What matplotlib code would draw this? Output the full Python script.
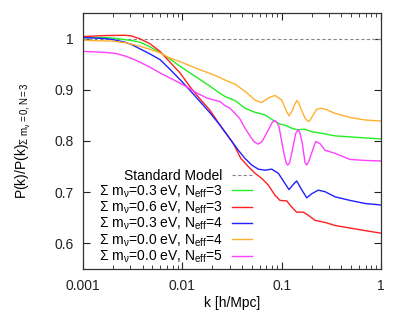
import matplotlib
matplotlib.use("Agg")
import matplotlib.pyplot as plt
from matplotlib.ticker import LogLocator, NullFormatter, FixedLocator, FixedFormatter

plt.rcParams['font.family'] = ['Liberation Sans', 'DejaVu Sans']
plt.rcParams['mathtext.fontset'] = 'custom'
plt.rcParams['mathtext.rm'] = 'Liberation Sans'
plt.rcParams['mathtext.it'] = 'Liberation Sans'
plt.rcParams['mathtext.sf'] = 'Liberation Sans'

# ---- data ----
k_std = [0.001, 1.0]
v_std = [1.0, 1.0]

k_green = [0.001, 0.00132, 0.001666, 0.002005, 0.002648, 0.003113, 0.003748, 0.004726, 0.005959,
           0.007513, 0.009474, 0.01194, 0.01506, 0.019, 0.02394, 0.02689,
           0.0339, 0.04274, 0.048, 0.05391, 0.06797, 0.0857, 0.0962, 0.108, 0.1262, 0.1417,
           0.1718, 0.2007, 0.253, 0.3443, 0.4875, 1.0]
v_green = [1.002, 1.002, 1.002, 1.001, 0.998, 0.996, 0.993, 0.984, 0.973,
           0.960, 0.946, 0.933, 0.920, 0.907, 0.893, 0.887,
           0.879, 0.864, 0.860, 0.856, 0.851, 0.838, 0.833, 0.831, 0.825, 0.822,
           0.823, 0.818, 0.815, 0.810, 0.808, 0.804]

k_red = [0.001, 0.00132, 0.001666, 0.002648, 0.003113, 0.003748, 0.004726, 0.005959, 0.007513,
         0.009474, 0.01194, 0.01506, 0.019, 0.02394, 0.0326, 0.0388, 0.04614, 0.05391, 0.06295,
         0.07336, 0.0857, 0.09623, 0.1124, 0.1262, 0.1417, 0.1652, 0.1854, 0.2166, 0.2731,
         0.3443, 0.4875, 0.69, 1.0]
v_red = [1.004, 1.005, 1.006, 1.0065, 1.005, 0.9994, 0.990, 0.975, 0.954,
         0.933, 0.906, 0.882, 0.860, 0.831, 0.795, 0.766, 0.750, 0.737, 0.727,
         0.714, 0.694, 0.684, 0.683, 0.671, 0.661, 0.661, 0.655, 0.645, 0.641,
         0.635, 0.630, 0.625, 0.620]

k_blue = [0.001, 0.00132, 0.001666, 0.002005, 0.002648, 0.003113, 0.003748, 0.004726, 0.005959,
          0.007513, 0.009474, 0.01194, 0.01506, 0.019, 0.02394, 0.0366,
          0.04274, 0.04993, 0.0582, 0.06797, 0.07936, 0.09252, 0.108, 0.1186, 0.1292, 0.1417,
          0.1566, 0.1787, 0.2007, 0.2338, 0.2731, 0.3443, 0.4875, 0.69, 1.0]
v_blue = [1.002, 1.001, 1.000, 0.998, 0.993, 0.988, 0.980, 0.970, 0.959,
          0.940, 0.920, 0.899, 0.877, 0.855, 0.831, 0.782,
          0.766, 0.753, 0.745, 0.743, 0.745, 0.737, 0.717, 0.705, 0.714, 0.722,
          0.707, 0.689, 0.697, 0.704, 0.701, 0.691, 0.684, 0.678, 0.675]

k_orange = [0.001, 0.00132, 0.001666, 0.002005, 0.002648, 0.003113, 0.003748, 0.004726, 0.005959,
            0.007513, 0.009474, 0.01194, 0.01506, 0.019, 0.02394, 0.02689,
            0.0339, 0.04274, 0.05391, 0.06295, 0.07336, 0.0857, 0.1001, 0.1124, 0.1186, 0.1242,
            0.131, 0.1331, 0.1417, 0.1477, 0.153, 0.1718, 0.1854, 0.1942, 0.2035, 0.2253,
            0.253, 0.2841, 0.3443, 0.4875, 0.69, 1.0]
v_orange = [0.997, 0.996, 0.9955, 0.995, 0.992, 0.989, 0.985, 0.979, 0.972,
            0.962, 0.955, 0.947, 0.939, 0.932, 0.924, 0.919,
            0.911, 0.897, 0.880, 0.875, 0.884, 0.889, 0.880, 0.857, 0.849, 0.855,
            0.864, 0.868, 0.879, 0.876, 0.867, 0.845, 0.838, 0.841, 0.848, 0.862,
            0.864, 0.861, 0.854, 0.846, 0.841, 0.839]

k_magenta = [0.001, 0.00132, 0.001666, 0.00213, 0.002648, 0.003113, 0.003748, 0.004726, 0.005959,
             0.007513, 0.009474, 0.01194, 0.01395, 0.01759, 0.02394,
             0.02689, 0.03019, 0.0339, 0.03807, 0.04274, 0.04993, 0.05267, 0.0574, 0.06194,
             0.06535, 0.0763, 0.08087, 0.0857, 0.0898, 0.09402, 0.1039, 0.1106, 0.115, 0.1199,
             0.1262, 0.1385, 0.1471, 0.153, 0.1614, 0.1718, 0.1787, 0.1863, 0.1975,
             0.2201, 0.2432, 0.2731, 0.3443, 0.4875, 0.69, 1.0]
v_magenta = [0.975, 0.974, 0.973, 0.971, 0.966, 0.961, 0.954, 0.944, 0.933,
             0.923, 0.913, 0.902, 0.894, 0.884, 0.877,
             0.869, 0.864, 0.854, 0.843, 0.825, 0.805, 0.799, 0.794, 0.797,
             0.803, 0.828, 0.837, 0.840, 0.836, 0.828, 0.782, 0.758, 0.753, 0.757,
             0.776, 0.815, 0.822, 0.815, 0.795, 0.758, 0.753, 0.759, 0.773,
             0.799, 0.795, 0.782, 0.776, 0.764, 0.762, 0.761]

labels = [
    'Standard Model',
    r'$\Sigma$ m$_\nu$=0.3 eV, N$_\mathrm{eff}$=3',
    r'$\Sigma$ m$_\nu$=0.6 eV, N$_\mathrm{eff}$=3',
    r'$\Sigma$ m$_\nu$=0.3 eV, N$_\mathrm{eff}$=4',
    r'$\Sigma$ m$_\nu$=0.0 eV, N$_\mathrm{eff}$=4',
    r'$\Sigma$ m$_\nu$=0.0 eV, N$_\mathrm{eff}$=5',
]
x_ticks = [0.001, 0.01, 0.1, 1]
x_ticklabels = ['0.001', '0.01', '0.1', '1']
y_ticks = [0.6, 0.7, 0.8, 0.9, 1.0]
y_ticklabels = ['0.6', '0.7', '0.8', '0.9', '1']

fig = plt.figure(figsize=(3.98, 3.18), dpi=100)
ax = fig.add_axes([83/398, 1-269/318, 298/398, 256/318])

ax.plot(k_std, v_std, color='#888888', lw=0.8, ls=(0, (3, 2)), label=labels[0])
ax.plot(k_green, v_green, color='#22ee22', lw=1.0, label=labels[1])
ax.plot(k_red, v_red, color='#ff2020', lw=1.0, label=labels[2])
ax.plot(k_blue, v_blue, color='#2020ff', lw=1.0, label=labels[3])
ax.plot(k_orange, v_orange, color='#ffb030', lw=1.0, label=labels[4])
ax.plot(k_magenta, v_magenta, color='#ff40ff', lw=1.0, label=labels[5])

ax.set_xscale('log')
ax.set_xlim(0.001, 1)
ax.set_ylim(0.55, 1.05)
ax.xaxis.set_major_locator(FixedLocator(x_ticks))
ax.xaxis.set_major_formatter(FixedFormatter(x_ticklabels))
ax.xaxis.set_minor_locator(LogLocator(base=10, subs=range(2, 10)))
ax.xaxis.set_minor_formatter(NullFormatter())
ax.yaxis.set_major_locator(FixedLocator(y_ticks))
ax.yaxis.set_major_formatter(FixedFormatter(y_ticklabels))
ax.tick_params(which='both', direction='in', top=True, right=True, labelsize=10, colors='#222222')
ax.tick_params(which='major', length=5, width=0.8)
ax.tick_params(which='minor', length=3, width=0.6)
ax.tick_params(axis='x', pad=7)
ax.tick_params(axis='y', pad=7)
for s in ax.spines.values():
    s.set_linewidth(0.9)
    s.set_color('#333333')

ax.set_xlabel('k [h/Mpc]', fontsize=10, labelpad=2)
ax.set_ylabel(r'P(k)/P(k)$_{\Sigma\ \mathrm{m}_\nu\mathrm{=0,N=3}}$', fontsize=10)
ax.yaxis.set_label_coords(-0.168, 0.5)

leg = ax.legend(loc='upper right', bbox_to_anchor=(0.567, 0.39), frameon=False,
                markerfirst=False, fontsize=10, handlelength=1.45, handletextpad=0.65,
                labelspacing=0.0, borderaxespad=0, borderpad=0)
for t in leg.get_texts():
    t.set_ha('right')

fig.savefig('out.png', dpi=100)
